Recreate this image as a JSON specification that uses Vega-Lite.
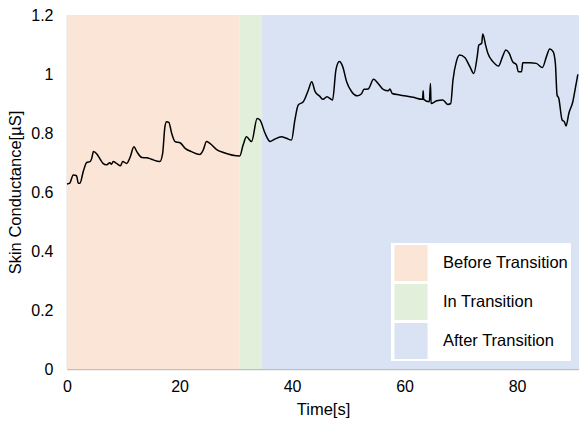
{
  "$schema": "https://vega.github.io/schema/vega-lite/v6.json",
  "width": 512,
  "height": 354,
  "autosize": {"type": "none"},
  "padding": {"left": 67, "top": 15, "right": 0, "bottom": 56},
  "background": "white",
  "view": {"stroke": null},
  "config": {
    "font": "Liberation Sans",
    "axis": {"labelFont": "Liberation Sans", "titleFont": "Liberation Sans", "labelColor": "#000000", "titleColor": "#000000", "titleFontWeight": "normal"}
  },
  "datasets": {
    "phases": [
      {"start": 0, "end": 30.7, "phase": "Before Transition"},
      {"start": 30.7, "end": 34.6, "phase": "In Transition"},
      {"start": 34.6, "end": 91, "phase": "After Transition"}
    ],
    "sc": [
      {"t": 0, "v": 0.627}, {"t": 0.5, "v": 0.63}, {"t": 1.1, "v": 0.658}, {"t": 1.7, "v": 0.655},
      {"t": 2.0, "v": 0.63}, {"t": 2.3, "v": 0.63}, {"t": 2.9, "v": 0.67}, {"t": 3.5, "v": 0.7},
      {"t": 4.1, "v": 0.703}, {"t": 4.4, "v": 0.714}, {"t": 4.7, "v": 0.737}, {"t": 5.3, "v": 0.729},
      {"t": 5.9, "v": 0.711}, {"t": 6.4, "v": 0.697}, {"t": 7.0, "v": 0.692}, {"t": 7.6, "v": 0.699},
      {"t": 7.9, "v": 0.694}, {"t": 8.2, "v": 0.703}, {"t": 8.8, "v": 0.697}, {"t": 9.5, "v": 0.689},
      {"t": 9.9, "v": 0.703}, {"t": 10.6, "v": 0.697}, {"t": 11.2, "v": 0.717}, {"t": 11.9, "v": 0.753},
      {"t": 12.4, "v": 0.737}, {"t": 13.3, "v": 0.717}, {"t": 14.2, "v": 0.716}, {"t": 15.0, "v": 0.711},
      {"t": 16.5, "v": 0.703}, {"t": 17.0, "v": 0.731}, {"t": 17.4, "v": 0.821}, {"t": 17.7, "v": 0.838},
      {"t": 18.1, "v": 0.836}, {"t": 18.6, "v": 0.799}, {"t": 19.2, "v": 0.771}, {"t": 20.1, "v": 0.767},
      {"t": 21.0, "v": 0.748}, {"t": 22.1, "v": 0.737}, {"t": 23.6, "v": 0.727}, {"t": 24.2, "v": 0.742},
      {"t": 24.8, "v": 0.771}, {"t": 25.4, "v": 0.765}, {"t": 26.6, "v": 0.744}, {"t": 27.8, "v": 0.734},
      {"t": 30.7, "v": 0.722}, {"t": 31.3, "v": 0.759}, {"t": 31.9, "v": 0.787}, {"t": 32.8, "v": 0.771},
      {"t": 33.8, "v": 0.849}, {"t": 34.3, "v": 0.844}, {"t": 35.2, "v": 0.799}, {"t": 36.1, "v": 0.771},
      {"t": 36.9, "v": 0.779}, {"t": 38.1, "v": 0.787}, {"t": 39.0, "v": 0.782}, {"t": 39.9, "v": 0.776},
      {"t": 40.5, "v": 0.844}, {"t": 41.1, "v": 0.895}, {"t": 42.0, "v": 0.906}, {"t": 42.9, "v": 0.946},
      {"t": 43.5, "v": 0.974}, {"t": 44.1, "v": 0.94}, {"t": 44.9, "v": 0.925}, {"t": 45.5, "v": 0.914},
      {"t": 46.2, "v": 0.923}, {"t": 47.2, "v": 0.912}, {"t": 47.8, "v": 1.014}, {"t": 48.4, "v": 1.042},
      {"t": 49.0, "v": 1.025}, {"t": 49.7, "v": 0.974}, {"t": 50.6, "v": 0.94}, {"t": 51.6, "v": 0.926},
      {"t": 52.3, "v": 0.932}, {"t": 52.8, "v": 0.948}, {"t": 53.5, "v": 0.949}, {"t": 54.5, "v": 0.982},
      {"t": 55.3, "v": 0.968}, {"t": 56.2, "v": 0.948}, {"t": 57.1, "v": 0.943}, {"t": 57.4, "v": 0.949},
      {"t": 57.8, "v": 0.934}, {"t": 59.1, "v": 0.929}, {"t": 61.5, "v": 0.921}, {"t": 63.2, "v": 0.914},
      {"t": 63.3, "v": 0.943}, {"t": 63.4, "v": 0.914}, {"t": 64.4, "v": 0.906}, {"t": 64.6, "v": 0.968},
      {"t": 64.7, "v": 0.9}, {"t": 65.7, "v": 0.909}, {"t": 66.8, "v": 0.912}, {"t": 67.7, "v": 0.897},
      {"t": 68.2, "v": 0.9}, {"t": 68.6, "v": 0.979}, {"t": 69.2, "v": 1.042}, {"t": 69.8, "v": 1.064},
      {"t": 70.7, "v": 1.056}, {"t": 71.6, "v": 1.025}, {"t": 72.3, "v": 1.002}, {"t": 72.9, "v": 1.058},
      {"t": 73.2, "v": 1.098}, {"t": 73.7, "v": 1.104}, {"t": 73.9, "v": 1.136}, {"t": 74.4, "v": 1.098},
      {"t": 74.8, "v": 1.07}, {"t": 75.7, "v": 1.042}, {"t": 76.7, "v": 1.027}, {"t": 77.4, "v": 1.058},
      {"t": 78.0, "v": 1.081}, {"t": 78.6, "v": 1.07}, {"t": 79.2, "v": 1.042}, {"t": 79.9, "v": 1.031},
      {"t": 80.2, "v": 1.008}, {"t": 80.8, "v": 1.008}, {"t": 81.0, "v": 1.038}, {"t": 82.2, "v": 1.038},
      {"t": 83.4, "v": 1.036}, {"t": 84.5, "v": 1.022}, {"t": 85.2, "v": 1.058}, {"t": 85.8, "v": 1.085},
      {"t": 86.4, "v": 1.076}, {"t": 86.8, "v": 1.036}, {"t": 87.1, "v": 0.929}, {"t": 87.4, "v": 0.918},
      {"t": 88.0, "v": 0.844}, {"t": 88.4, "v": 0.838}, {"t": 88.7, "v": 0.824}, {"t": 89.2, "v": 0.867},
      {"t": 89.9, "v": 0.906}, {"t": 90.4, "v": 0.957}, {"t": 90.8, "v": 0.999}
    ]
  },
  "layer": [
    {
      "data": {"name": "phases"},
      "mark": {"type": "rect", "opacity": 1},
      "encoding": {
        "x": {"field": "start", "type": "quantitative",
          "scale": {"domain": [0, 91], "nice": false, "zero": false},
          "axis": {"title": "Time[s]", "values": [0, 20, 40, 60, 80], "grid": false, "ticks": false, "labelFlush": false,
            "domainColor": "#bfbfbf", "domainWidth": 1.5, "labelFontSize": 16, "titleFontSize": 16.5,
            "labelPadding": 9, "titlePadding": 7}},
        "x2": {"field": "end"},
        "color": {"field": "phase", "type": "nominal",
          "scale": {"domain": ["Before Transition", "In Transition", "After Transition"],
            "range": ["#fbe5d6", "#e2efda", "#dae3f3"]},
          "legend": {"title": null, "orient": "none", "legendX": 324, "legendY": 228,
            "fillColor": "white", "padding": 2, "rowPadding": 3,
            "symbolType": "M-0.92,-1H0.92V1H-0.92Z", "symbolSize": 1296, "symbolStrokeWidth": 0, "symbolOpacity": 1,
            "labelFont": "Liberation Sans", "labelFontSize": 16.5, "labelColor": "#000000", "labelOffset": 14, "labelLimit": 300}}
      }
    },
    {
      "data": {"name": "sc"},
      "mark": {"type": "line", "color": "#000000", "strokeWidth": 1.5, "interpolate": "monotone"},
      "encoding": {
        "x": {"field": "t", "type": "quantitative"},
        "y": {"field": "v", "type": "quantitative",
          "scale": {"domain": [0, 1.2], "nice": false},
          "axis": {"title": "Skin Conductance[µS]", "values": [0, 0.2, 0.4, 0.6, 0.8, 1, 1.2], "format": "~g",
            "grid": false, "ticks": false, "labelFlush": false, "domainColor": "#bfbfbf", "domainWidth": 1.5,
            "labelFontSize": 16, "titleFontSize": 16.5, "labelPadding": 14, "titlePadding": 7}}
      }
    }
  ]
}
